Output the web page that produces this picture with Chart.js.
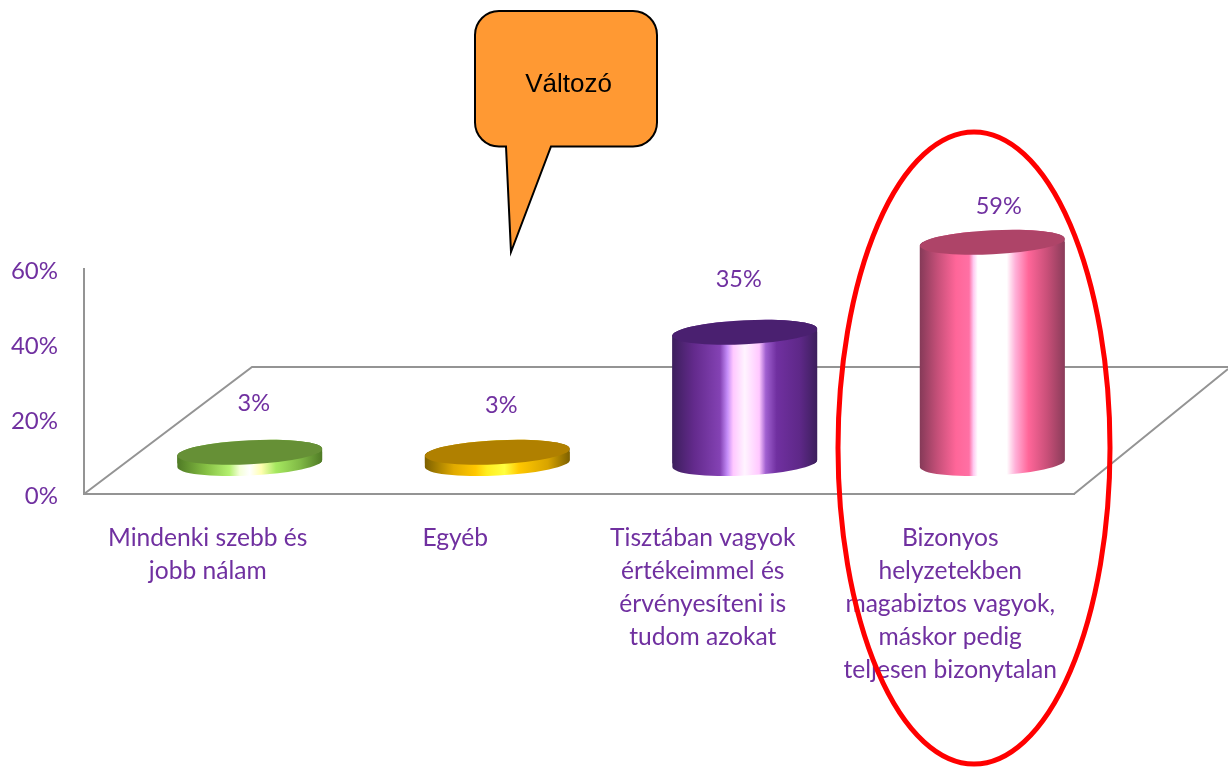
<!DOCTYPE html>
<html><head><meta charset="utf-8">
<style>html,body{margin:0;padding:0;background:#fff}canvas{display:block}</style>
<script src="https://cdn.jsdelivr.net/npm/chart.js@4"></script>
</head><body><canvas id="c" width="1228" height="767"></canvas>
<script>
const categories = [
  ['Mindenki szebb és','jobb nálam'],
  ['Egyéb'],
  ['Tisztában vagyok','értékeimmel és','érvényesíteni is','tudom azokat'],
  ['Bizonyos','helyzetekben','magabiztos vagyok,','máskor pedig','teljesen bizonytalan']
];
const values = [3, 3, 35, 59];
const valueLabels = ['3%', '3%', '35%', '59%'];
const yTicks = [0, 20, 40, 60];
const labelShiftX = [4, 4, -6, 6.5];
const labelShiftY = [-48.5, -46.5, -53, -35.5];
const topColors = ['#669036', '#b08000', '#4a2070', '#ae4468'];
const sideStops = [
  [[0,'#4f7a25'],[.2,'#86c044'],[.36,'#b4f070'],[.43,'#f4ffd8'],[.5,'#ffffff'],[.58,'#ffffb0'],[.68,'#a6e860'],[.85,'#7fb845'],[1,'#4f7a25']],
  [[0,'#7d6000'],[.2,'#e0aa00'],[.35,'#ffc800'],[.43,'#ffee20'],[.55,'#ffff40'],[.65,'#ffc800'],[.85,'#d8a400'],[1,'#7d6000']],
  [[0,'#3c1f5c'],[.15,'#632a8c'],[.33,'#8442b4'],[.38,'#c48cf8'],[.42,'#ffc8ff'],[.5,'#fff4ff'],[.6,'#ffc8ff'],[.645,'#a060d0'],[.72,'#7030a0'],[.88,'#5e2888'],[1,'#3c1f5c']],
  [[0,'#853a58'],[.12,'#c44f78'],[.25,'#ff6699'],[.34,'#ff70a4'],[.37,'#ffc8f0'],[.4,'#ffffff'],[.6,'#ffffff'],[.66,'#ffb0d8'],[.75,'#ff6699'],[.88,'#c84f78'],[1,'#8a3c5a']]
];
const depthX = 42, depthY = -30.5, tilt = -0.05, capRy = 12;
const axisGray = '#949494', textPurple = '#7030a0';

function sideGradient(ctx, x, w, stops) {
  const g = ctx.createLinearGradient(x - w / 2, 0, x + w / 2, 0);
  stops.forEach(s => g.addColorStop(s[0], s[1]));
  return g;
}
function silhouette(ctx, b) {
  const r = b.width / 2;
  ctx.moveTo(b.x - r * Math.cos(tilt), b.y - r * Math.sin(tilt));
  ctx.ellipse(b.x, b.y, r, capRy, tilt, Math.PI, 2 * Math.PI);
  ctx.lineTo(b.x + r * Math.cos(tilt), b.base + r * Math.sin(tilt));
  ctx.ellipse(b.x, b.base, r, capRy, tilt, 0, Math.PI);
  ctx.closePath();
}
const cylinders = {
  id: 'cylinders',
  beforeDatasetsDraw(chart) {
    const { ctx, chartArea: a } = chart;
    ctx.save();
    ctx.strokeStyle = axisGray; ctx.lineWidth = 2;
    ctx.beginPath();
    ctx.moveTo(a.left, a.bottom);
    ctx.lineTo(a.left + 168, a.bottom - 127);
    ctx.lineTo(chart.width, a.bottom - 127);
    ctx.moveTo(a.right, a.bottom);
    ctx.lineTo(chart.width, a.bottom - 125);
    ctx.stroke();
    ctx.restore();
    ctx.save();
    ctx.translate(depthX, depthY);
    const bars = chart.getDatasetMeta(0).data;
    bars.forEach((b, i) => {
      ctx.beginPath(); silhouette(ctx, b);
      ctx.fillStyle = sideGradient(ctx, b.x, b.width, sideStops[i]);
      ctx.fill();
    });
    ctx.beginPath();
    bars.forEach(b => silhouette(ctx, b));
    ctx.clip();
  },
  afterDatasetsDraw(chart) {
    const { ctx } = chart;
    ctx.restore();
    ctx.save();
    ctx.translate(depthX, depthY);
    chart.getDatasetMeta(0).data.forEach((b, i) => {
      ctx.beginPath();
      ctx.ellipse(b.x, b.y, b.width / 2, capRy, tilt, 0, 2 * Math.PI);
      ctx.fillStyle = topColors[i];
      ctx.fill();
    });
    ctx.fillStyle = textPurple;
    ctx.font = '23.5px Lato';
    ctx.textAlign = 'center';
    ctx.textBaseline = 'middle';
    chart.getDatasetMeta(0).data.forEach((b, i) => {
      ctx.fillText(valueLabels[i], b.x + labelShiftX[i], b.y + labelShiftY[i]);
    });
    ctx.restore();
  }
};
const annotations = {
  id: 'annotations',
  afterDraw(chart) {
    const { ctx } = chart;
    ctx.save();
    // callout
    const L = 475, R = 657, T = 11, B = 146.5, r = 24;
    ctx.beginPath();
    ctx.moveTo(L + r, T);
    ctx.arcTo(R, T, R, B, r);
    ctx.arcTo(R, B, L, B, r);
    ctx.lineTo(551, B);
    ctx.lineTo(511, 252);
    ctx.lineTo(506, B);
    ctx.arcTo(L, B, L, T, r);
    ctx.arcTo(L, T, R, T, r);
    ctx.closePath();
    ctx.fillStyle = '#ff9933';
    ctx.fill();
    ctx.strokeStyle = '#000';
    ctx.lineWidth = 2;
    ctx.stroke();
    ctx.fillStyle = '#000';
    ctx.font = '26px "Liberation Sans"';
    ctx.textAlign = 'center';
    ctx.textBaseline = 'alphabetic';
    ctx.fillText('Változó', 568.5, 92);
    // highlight ring
    ctx.beginPath();
    ctx.ellipse(974, 448, 136, 316, 0, 0, 2 * Math.PI);
    ctx.strokeStyle = '#ff0000';
    ctx.lineWidth = 5;
    ctx.stroke();
    ctx.restore();
  }
};
new Chart(document.getElementById('c'), {
  type: 'bar',
  data: {
    labels: categories,
    datasets: [{
      data: values,
      barThickness: 145,
      borderWidth: 0,
      backgroundColor: c => {
        const s = c.chart.scales.x;
        const px = s && c.dataIndex !== undefined ? s.getPixelForValue(c.dataIndex) : NaN;
        if (!Number.isFinite(px)) return '#7030a0';
        return sideGradient(c.chart.ctx, px, 145, sideStops[c.dataIndex]);
      }
    }]
  },
  options: {
    responsive: false,
    animation: false,
    layout: { padding: { left: 0, right: 154, top: 269, bottom: 0 } },
    plugins: { legend: { display: false }, tooltip: { enabled: false } },
    scales: {
      x: {
        grid: { display: false, drawTicks: false },
        border: { display: true, color: axisGray, width: 2 },
        afterFit: s => { s.height = 273; },
        ticks: {
          color: textPurple, padding: 28, autoSkip: false, maxRotation: 0, minRotation: 0,
          font: { family: 'Lato', size: 24.6, lineHeight: '33px' }
        }
      },
      y: {
        min: 0, max: 60,
        grid: { display: false, drawTicks: false },
        border: { display: true, color: axisGray, width: 2 },
        afterFit: s => { s.width = 84; },
        afterBuildTicks: s => { s.ticks = yTicks.map(v => ({ value: v })); },
        ticks: {
          color: textPurple, padding: 26,
          font: { family: 'Lato', size: 24, lineHeight: '4px' },
          callback: v => ['', v + '%']
        }
      }
    }
  },
  plugins: [cylinders, annotations]
});
</script></body></html>
